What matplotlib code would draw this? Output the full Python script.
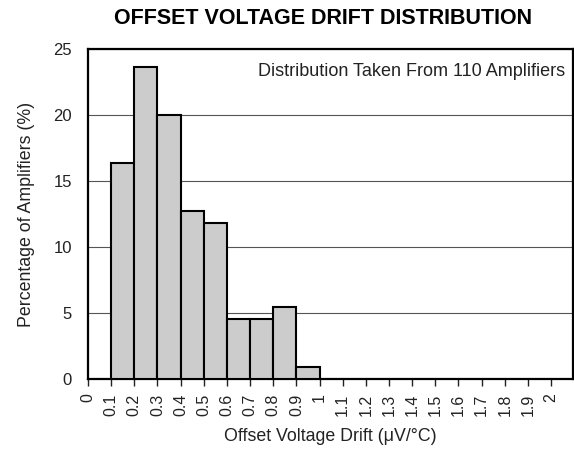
import matplotlib
matplotlib.use("Agg")
import matplotlib.pyplot as plt
import numpy as np

plt.rcParams['font.family'] = ['Liberation Sans', 'DejaVu Sans']

bin_left = [0.1, 0.2, 0.3, 0.4, 0.5, 0.6, 0.7, 0.8, 0.9]
percent = [16.36, 23.64, 20.0, 12.73, 11.82, 4.55, 4.55, 5.45, 0.91]
xticks = [round(0.1 * i, 1) for i in range(21)]
xtick_labels = ["0", "0.1", "0.2", "0.3", "0.4", "0.5", "0.6", "0.7", "0.8", "0.9", "1",
                "1.1", "1.2", "1.3", "1.4", "1.5", "1.6", "1.7", "1.8", "1.9", "2"]
yticks = [0, 5, 10, 15, 20, 25]

fig = plt.figure(figsize=(5.74, 4.57), dpi=100)
ax = fig.add_axes([0.1533, 0.1707, 0.8447, 0.7221])

ax.bar(bin_left, percent, width=0.1, align='edge', color='#cccccc',
       edgecolor='black', linewidth=1.5, zorder=3)

ax.set_xlim(0, 2.094)
ax.set_ylim(0, 25)
ax.set_yticks(yticks)
ax.set_xticks(xticks)
ax.set_xticklabels(xtick_labels, rotation=90, fontsize=11.5)
ax.tick_params(axis='y', length=0, labelsize=12, pad=11.5, colors='#222222')
ax.tick_params(axis='x', length=5, width=1, direction='out', pad=5.5, colors='#222222')
ax.yaxis.grid(True, color='#555555', linewidth=0.8, zorder=1)
for s in ax.spines.values():
    s.set_linewidth(1.6)

ax.set_xlabel("Offset Voltage Drift (\u03bcV/\u00b0C)", fontsize=12.8, labelpad=9, color='#222222')
ax.set_ylabel("Percentage of Amplifiers (%)", fontsize=12.8, labelpad=13, color='#222222')
ax.set_title("OFFSET VOLTAGE DRIFT DISTRIBUTION", fontsize=15.5, fontweight='bold', pad=18, x=0.4845)
ax.text(0.9835, 0.918, "Distribution Taken From 110 Amplifiers", transform=ax.transAxes,
        ha='right', va='baseline', fontsize=13, color='#222222')

fig.savefig("out.png", dpi=100)
